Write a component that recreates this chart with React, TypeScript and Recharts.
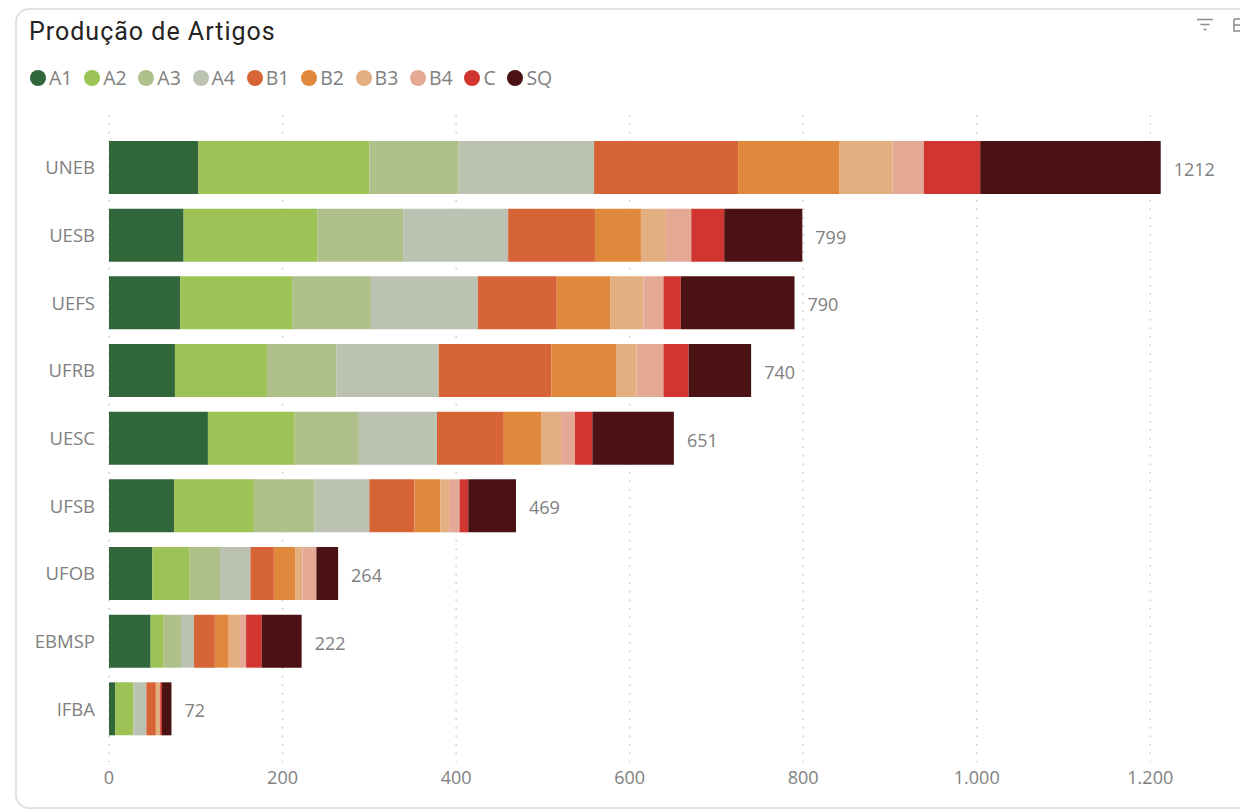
import { BarChart, Bar, XAxis, YAxis, CartesianGrid, Legend, LabelList } from "recharts";

const universities = ["UNEB", "UESB", "UEFS", "UFRB", "UESC", "UFSB", "UFOB", "EBMSP", "IFBA"];
const totals = [1212, 799, 790, 740, 651, 469, 264, 222, 72];

const a1 = [103, 86, 82, 76, 114, 75, 50, 48, 7];
const a2 = [197, 154, 129, 106, 100, 92, 43, 15, 21];
const a3 = [103, 99, 91, 80, 74, 70, 35, 20, 0];
const a4 = [156, 121, 123, 118, 90, 63, 35, 15, 15];
const b1 = [166, 100, 91, 130, 77, 52, 27, 24, 11];
const b2 = [117, 53, 62, 75, 43, 30, 25, 16, 0];
const b3 = [61, 29, 38, 23, 23, 10, 8, 13, 5];
const b4 = [36, 29, 23, 31, 16, 12, 16, 7, 0];
const c = [65, 38, 20, 29, 20, 10, 0, 18, 2];
const sq = [208, 90, 131, 72, 94, 55, 25, 46, 11];

const seriesNames = ["A1", "A2", "A3", "A4", "B1", "B2", "B3", "B4", "C", "SQ"];
const seriesValues = [a1, a2, a3, a4, b1, b2, b3, b4, c, sq];
const colors = ["#31663A", "#9DC356", "#AFC08B", "#BBC2B1", "#D66437", "#E0883B", "#E3AE80", "#E4A995", "#D13530", "#4A1212"];
const xTicks = [0, 200, 400, 600, 800, 1000, 1200];

const data = universities.map((name, i) => {
  const row: Record<string, string | number> = { name, total: totals[i] };
  seriesNames.forEach((s, j) => {
    row[s] = seriesValues[j][i];
  });
  return row;
});

const bodyFont = "'Open Sans', sans-serif";
const textGrey = "#808080";

const formatTick = (v: number) => String(v).replace(/\B(?=(\d{3})+(?!\d))/g, ".");

const LegendRow = () => (
  <div style={{ display: "flex", fontFamily: bodyFont, fontSize: 19.5, color: textGrey, lineHeight: "20px" }}>
    {seriesNames.map((s, i) => (
      <div key={s} style={{ display: "flex", alignItems: "center", marginRight: 11.7 }}>
        <span style={{ width: 16, height: 16, borderRadius: "50%", background: colors[i], marginRight: 3 }} />
        {s}
      </div>
    ))}
  </div>
);

export default function App() {
  return (
    <div style={{ position: "absolute", left: 0, top: 0, width: 1240, height: 810, overflow: "hidden", background: "#fff" }}>
      <div
        style={{
          position: "absolute",
          left: 15,
          top: 8,
          width: 1300,
          height: 801,
          border: "2px solid #e2e2e2",
          borderRadius: 14,
          boxSizing: "border-box",
        }}
      />
      <div
        style={{
          position: "absolute",
          left: 29,
          top: 17,
          fontFamily: "Roboto, sans-serif",
          fontSize: 25,
          letterSpacing: 1,
          color: "#252423",
        }}
      >
        Produção de Artigos
      </div>
      <svg style={{ position: "absolute", left: 1196, top: 17 }} width={44} height={16}>
        <path d="M1 2.5H17M4.5 7.5H13.5M7.5 12.5H10.5" stroke="#8a8a8a" strokeWidth={1.5} fill="none" />
        <path d="M38 2H44M38 2V14H44M38 8H44" stroke="#8a8a8a" strokeWidth={1.5} fill="none" />
      </svg>
      <BarChart
        width={1240}
        height={810}
        data={data}
        layout="vertical"
        margin={{ top: 95, right: 55, bottom: 18, left: 0 }}
        barSize={53}
        style={{ position: "absolute", left: 0, top: 0 }}
      >
        <CartesianGrid
          horizontal={false}
          verticalValues={xTicks}
          stroke="#c8c8c8"
          strokeWidth={1.5}
          strokeDasharray="1.5 7"
        />
        <XAxis
          type="number"
          domain={[0, 1240]}
          ticks={xTicks}
          tickFormatter={formatTick}
          axisLine={false}
          tickLine={false}
          tickMargin={3}
          interval={0}
          tick={{ fontFamily: bodyFont, fontSize: 18, fill: textGrey }}
        />
        <YAxis
          type="category"
          dataKey="name"
          width={109}
          padding={{ top: 19, bottom: 19 }}
          axisLine={false}
          tickLine={false}
          tickMargin={8}
          interval={0}
          tick={{ fontFamily: bodyFont, fontSize: 18.5, fill: textGrey }}
        />
        <Legend
          verticalAlign="top"
          content={<LegendRow />}
          wrapperStyle={{ position: "absolute", left: 30, top: 68, width: 700 }}
        />
        {seriesNames.map((s, i) => (
          <Bar key={s} dataKey={s} stackId="total" fill={colors[i]} isAnimationActive={false}>
            {s === "SQ" && (
              <LabelList
                dataKey="total"
                position="right"
                offset={13}
                dy={2}
                style={{ fontFamily: bodyFont, fontSize: 18, fill: textGrey }}
              />
            )}
          </Bar>
        ))}
      </BarChart>
    </div>
  );
}
